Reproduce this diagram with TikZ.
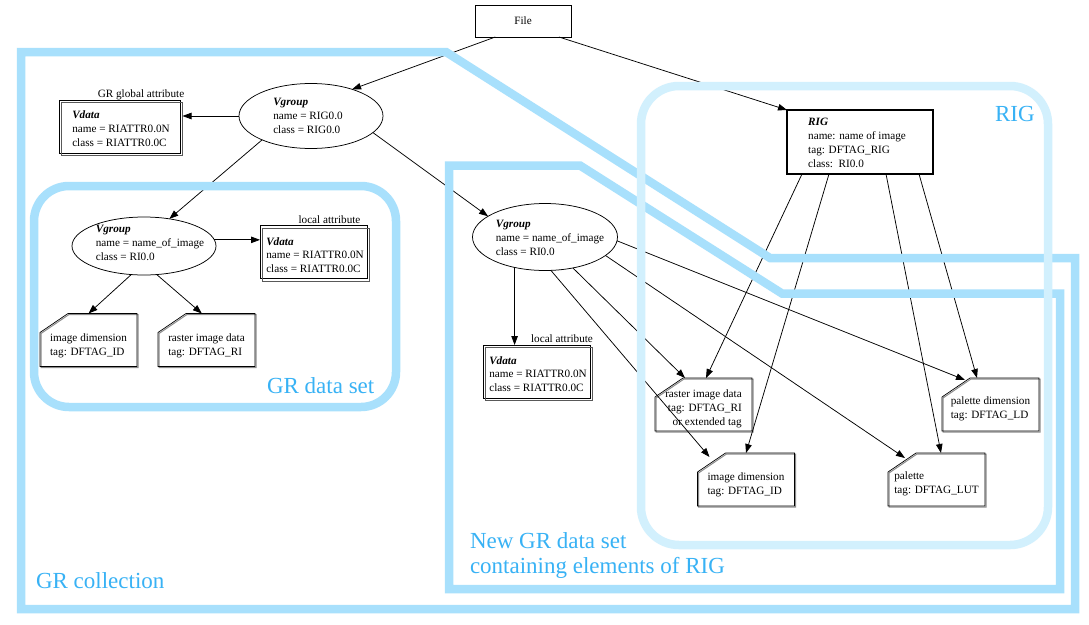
\documentclass[tikz,border=0pt]{standalone}
\usepackage{fontspec}
\setmainfont{Liberation Serif}
\usetikzlibrary{arrows.meta,shapes.geometric}
\definecolor{frameblue}{RGB}{168,224,252}
\definecolor{rigblue}{RGB}{210,240,253}
\definecolor{labelblue}{RGB}{56,178,245}
\begin{document}
\begin{tikzpicture}[x=1pt,y=-1pt,
  every node/.style={inner sep=0pt, outer sep=0pt, font=\fontsize{11.2}{13.8}\selectfont},
  arr/.style={line width=0.75pt, -{Triangle[length=9pt,width=6.5pt]}},
  filebox/.style={draw, line width=0.8pt, minimum width=96pt, minimum height=32pt},
  vgell/.style={draw, ellipse, line width=0.75pt},
  vdbox/.style={draw, line width=0.8pt, minimum height=53pt},
  notebox/.style={minimum width=97pt, minimum height=53pt},
  txt/.style={align=left},
  blueframe/.style={draw=frameblue, line width=8.5pt},
  rigframe/.style={draw=rigblue, line width=8.5pt, rounded corners=38pt},
  bigtxt/.style={text=labelblue, font=\fontsize{23}{26}\selectfont, anchor=base west},
  attrlbl/.style={anchor=base}
]
\useasboundingbox (0,0) rectangle (1089,624);
\fill[white] (0,0) rectangle (1089,624);

% ---------- nodes ----------
\node[filebox] (file) at (523,21) {File};

\node[vgell, minimum width=144pt, minimum height=65pt] (vg1) at (311,116) {};
\node[txt] (vg1t) at (308,116) {\textbf{\textit{Vgroup}}\\name = RIG0.0\\class = RIG0.0};

\node[attrlbl] (gattr) at (141,97) {GR global attribute};
\node[vdbox, minimum width=121pt] (vd1) at (119.5,126.5) {};
\node[txt] (vd1t) at (121,128.5) {\textbf{\textit{Vdata}}\\name = RIATTR0.0N\\class = RIATTR0.0C};

\node[vgell, minimum width=144pt, minimum height=58pt] (vg2) at (144,246) {};
\node[txt] (vg2t) at (150,243) {\textbf{\textit{Vgroup}}\\name = name\_of\_image\\class = RI0.0};

\node[attrlbl] (lattr1) at (329.5,223) {local attribute};
\node[vdbox, minimum width=107pt] (vd2) at (313.5,252) {};
\node[txt] (vd2t) at (315,255) {\textbf{\textit{Vdata}}\\name = RIATTR0.0N\\class = RIATTR0.0C};

\node[notebox] (id1) at (88.5,340) {};
\node[txt] (id1t) at ([yshift=-6pt]id1.center) {image dimension\\tag: DFTAG\_ID};
\node[notebox] (ri1) at (206.5,340) {};
\node[txt] (ri1t) at ([yshift=-6pt]ri1.center) {raster image data\\tag: DFTAG\_RI};

\node[vgell, minimum width=145pt, minimum height=67pt] (vg3) at (545,237) {};
\node[txt] (vg3t) at (550,238) {\textbf{\textit{Vgroup}}\\name = name\_of\_image\\class = RI0.0};

\node[attrlbl] (lattr2) at (562,342) {local attribute};
\node[vdbox, minimum width=107pt] (vd3) at (536.5,371.5) {};
\node[txt] (vd3t) at (538,374) {\textbf{\textit{Vdata}}\\name = RIATTR0.0N\\class = RIATTR0.0C};

\node[draw, line width=1.1pt, minimum width=146pt, minimum height=64pt] (rig) at (860,142) {};
\node[txt] (rigt) at (857,143) {\textbf{\textit{RIG}}\\name: name of image\\tag: DFTAG\_RIG\\class:~~RI0.0};

\node[notebox] (ri2) at (703.5,404.5) {};
\node[align=right] (ri2t) at ([yshift=-4.5pt]ri2.center) {raster image data\\tag: DFTAG\_RI\\or extended tag};
\node[notebox] (id2) at (746,479.5) {};
\node[txt] (id2t) at ([yshift=-5pt]id2.center) {image dimension\\tag: DFTAG\_ID};
\node[notebox] (pd) at (990.5,404.5) {};
\node[txt] (pdt) at ([yshift=-4pt]pd.center) {palette dimension\\tag: DFTAG\_LD};
\node[notebox] (pal) at (936.5,479.5) {};
\node[txt] (palt) at ([yshift=-4pt]pal.center) {palette\\tag: DFTAG\_LUT};

% double outlines of Vdata boxes
\foreach \n in {vd1,vd2,vd3}{
  \draw[black!65, line width=0.8pt] ([shift={(2.5pt,-2.5pt)}]\n.north west) rectangle ([shift={(2.5pt,-2.5pt)}]\n.south east);
}
% cut-corner boxes
\foreach \n in {id1,ri1,ri2,id2,pd,pal}{
  \draw[black!45, line width=1pt] ([shift={(1pt,-20pt)}]\n.north west) -- ([shift={(29pt,-1pt)}]\n.north west) -- ([shift={(1pt,-1pt)}]\n.north east) -- ([shift={(1pt,-1pt)}]\n.south east) -- ([shift={(1pt,-1pt)}]\n.south west) -- cycle;
  \draw[line width=0.7pt] ([yshift=-19pt]\n.north west) -- ([xshift=28pt]\n.north west) -- (\n.north east) -- (\n.south east) -- (\n.south west) -- cycle;
}

% ---------- connectors ----------
\coordinate (vd1r) at ([xshift=2.5pt]vd1.east);
\draw[arr] (file.210) -- (vg1.33);
\draw[arr] (file.-24) -- (rig.north west);
\draw[arr] (vg1.west) -- (vg1.west -| vd1r);
\draw[arr] (vg1.206) -- (vg2.47);
\draw[arr] (vg1.-15) -- (vg3.160);
\draw[arr] (vg2.5) -- (vg2.5 -| vd2.west);
\draw[arr] (vg2.246) -- (id1.north);
\draw[arr] (vg2.-66) -- (ri1.100);
\draw[arr] (vg3.225) -- (vg3.225 |- vd3.north);
\draw[arr] (vg3.-48) -- ([xshift=30pt]ri2.north west);
\draw[arr] (vg3.-80) -- ([shift={(12pt,-4pt)}]id2.north west);
\draw[arr] (vg3.-17) -- ([shift={(17pt,-5pt)}]pal.north west);
\draw[arr] (vg3.-3) -- ([shift={(23pt,-2pt)}]pd.north west);
\draw[arr] ([xshift=15pt]rig.south west) -- ([xshift=51pt]ri2.north west);
\draw[arr] ([xshift=42pt]rig.south west) -- (id2.north);
\draw[arr] ([xshift=99pt]rig.south west) -- ([xshift=53pt]pal.north west);
\draw[arr] ([xshift=132pt]rig.south west) -- ([xshift=35pt]pd.north west);

% ---------- annotation frames ----------
\draw[blueframe] (21,52) -- (446,52) -- (770,258) -- (1075,258) -- (1075,609) -- (21,609) -- cycle;
\draw[blueframe] (449,165.5) -- (580,165.5) -- (782,293.5) -- (1060,293.5) -- (1060,589) -- (449,589) -- cycle;
\draw[blueframe, rounded corners=35pt] (34,186) rectangle (396,407);
\draw[rigframe] (641,86) rectangle (1048,545);

\node[bigtxt] (lblgrc) at (36,588) {GR collection};
\node[bigtxt] (lblnew1) at (470,548) {New GR data set};
\node[bigtxt] (lblnew2) at (470,573) {containing elements of RIG};
\node[bigtxt] (lblgrds) at (267,393) {GR data set};
\node[bigtxt] (lblrig) at (995,121) {RIG};
\end{tikzpicture}
\end{document}
